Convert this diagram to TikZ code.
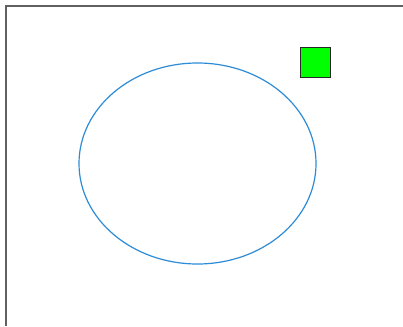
\documentclass[tikz,border=0pt]{standalone}
\begin{document}
\begin{tikzpicture}[x=1pt,y=-1pt,
  frameline/.style={draw=black!62,line width=2.4pt},
  ellipseline/.style={draw={rgb,255:red,45;green,140;blue,215},line width=1.2pt},
  greenbox/.style={draw=black!85,line width=1.7pt,fill={rgb,255:red,0;green,255;blue,0}}]
\useasboundingbox (0,0) rectangle (403,326);
\fill[white] (0,0) rectangle (403,326);
\draw[frameline] (5.8,326) -- (5.8,5.8) -- (403,5.8);
\draw[ellipseline] (197.5,163.5) ellipse [x radius=118.5, y radius=100.5];
\draw[greenbox] (300.5,47.5) rectangle (330.5,77.5);
\end{tikzpicture}
\end{document}
